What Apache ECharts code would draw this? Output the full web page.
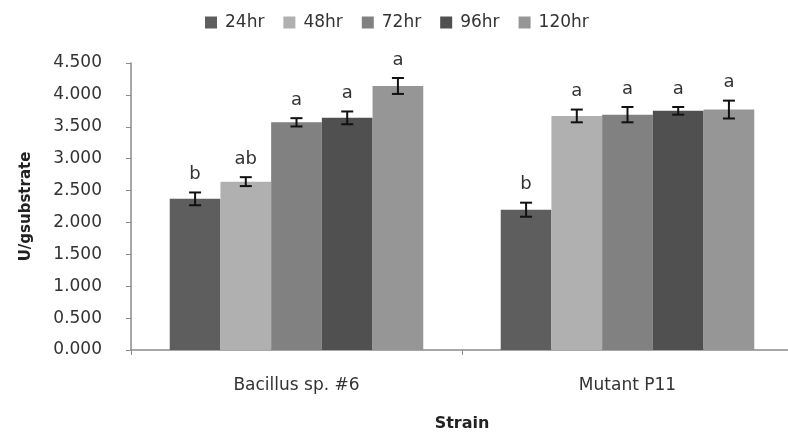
<!DOCTYPE html>
<html><head><meta charset="utf-8">
<script src="https://cdn.jsdelivr.net/npm/echarts@6/dist/echarts.min.js"></script>
<style>html,body{margin:0;padding:0;background:#fff}#c{width:788px;height:438px}</style>
</head><body><div id="c"></div>
<script>
const categories = ['Bacillus sp. #6', 'Mutant P11'];
const seriesNames = ['24hr', '48hr', '72hr', '96hr', '120hr'];
const v24 = [2.37, 2.20];
const v48 = [2.64, 3.67];
const v72 = [3.57, 3.69];
const v96 = [3.64, 3.75];
const v120 = [4.14, 3.77];
const e24 = [0.10, 0.11];
const e48 = [0.07, 0.10];
const e72 = [0.065, 0.12];
const e96 = [0.10, 0.06];
const e120 = [0.125, 0.14];
const l24 = ['b', 'b'];
const l48 = ['ab', 'a'];
const l72 = ['a', 'a'];
const l96 = ['a', 'a'];
const l120 = ['a', 'a'];
const yTicks = ['0.000','0.500','1.000','1.500','2.000','2.500','3.000','3.500','4.000','4.500'];

const values = [v24, v48, v72, v96, v120];
const errors = [e24, e48, e72, e96, e120];
const letters = [l24, l48, l72, l96, l120];
const colors = ['#5e5e5e', '#b0b0b0', '#818181', '#505050', '#969696'];
const catGap = 0.234;
const FONT = 'DejaVu Sans';

const series = [];
seriesNames.forEach((n, i) => {
  series.push({
    name: n, type: 'bar', data: values[i], barGap: '0%', barCategoryGap: (catGap * 100) + '%',
    itemStyle: { color: colors[i] }, emphasis: { disabled: true }
  });
});
const errData = [];
values.forEach((arr, si) => arr.forEach((v, ci) => errData.push([ci, v, errors[si][ci], si, letters[si][ci]])));
series.push({
  type: 'custom', name: 'err', data: errData, z: 10, silent: true,
  encode: { x: 0, y: 1 },
  renderItem: function (params, api) {
    const ci = api.value(0), v = api.value(1), e = api.value(2), si = api.value(3);
    const lab = errData[params.dataIndex][4];
    const catW = api.size([1, 0])[0];
    const bw = catW * (1 - catGap) / 5;
    const c = api.coord([ci, v]);
    const x = c[0] + (si - 2) * bw;
    const top = api.coord([ci, v + e])[1];
    const bot = api.coord([ci, v - e])[1];
    const hw = 6;
    const st = { stroke: '#111', lineWidth: 2 };
    return { type: 'group', children: [
      { type: 'line', shape: { x1: x, y1: top, x2: x, y2: bot }, style: st },
      { type: 'line', shape: { x1: x - hw, y1: top, x2: x + hw, y2: top }, style: st },
      { type: 'line', shape: { x1: x - hw, y1: bot, x2: x + hw, y2: bot }, style: st },
      { type: 'text', x: x, y: top - 18, style: { text: lab, fill: '#333', font: '18px "' + FONT + '"', align: 'center', verticalAlign: 'middle' } }
    ]};
  }
});

const chart = echarts.init(document.getElementById('c'), null, { renderer: 'canvas' });
chart.setOption({
  animation: false,
  textStyle: { fontFamily: FONT },
  legend: {
    data: seriesNames, top: 9, left: 200, itemWidth: 12, itemHeight: 12, itemGap: 19,
    icon: 'rect', textStyle: { fontSize: 17, color: '#333', fontFamily: FONT, padding: [0, 0, 0, 3] }
  },
  grid: { left: 131, right: -5, top: 63, bottom: 88, containLabel: false, outerBoundsMode: 'none' },
  xAxis: {
    type: 'category', data: categories,
    name: 'Strain', nameLocation: 'middle', nameGap: 66,
    nameTextStyle: { fontSize: 16, fontWeight: 'bold', color: '#222', fontFamily: FONT },
    axisLine: { lineStyle: { color: '#8a8a8a', width: 1.5 } },
    axisTick: { show: true, length: 5, lineStyle: { color: '#8a8a8a' } },
    axisLabel: { fontSize: 17, color: '#333', margin: 27, fontFamily: FONT }
  },
  yAxis: {
    type: 'value', min: 0, max: 4.5, interval: 0.5,
    name: 'U/gsubstrate', nameLocation: 'middle', nameGap: 97, nameRotate: 90,
    nameTextStyle: { fontSize: 15, fontWeight: 'bold', color: '#222', fontFamily: FONT },
    axisLine: { show: true, lineStyle: { color: '#8a8a8a', width: 1.5 } },
    axisTick: { show: true, length: 5, lineStyle: { color: '#8a8a8a' } },
    splitLine: { show: false },
    axisLabel: { fontSize: 17, color: '#333', margin: 29, fontFamily: FONT,
      formatter: (v) => yTicks[Math.round(v / 0.5)] }
  },
  series: series
});
</script></body></html>
